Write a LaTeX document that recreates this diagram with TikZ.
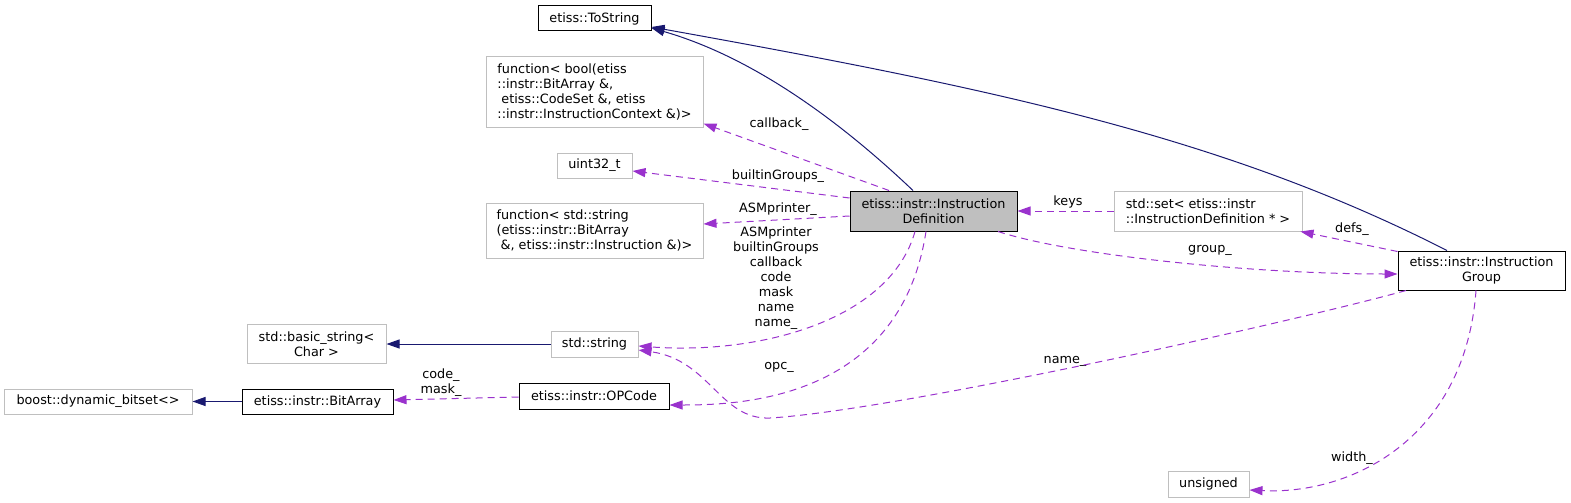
\documentclass[tikz,border=0pt]{standalone}
\usepackage{fontspec}
\setmainfont{DejaVu Sans}
\usetikzlibrary{arrows.meta}
\usetikzlibrary{positioning}
\definecolor{inhblue}{HTML}{191970}
\definecolor{usepurple}{HTML}{9A32CD}
\definecolor{boxgray}{HTML}{BFBFBF}

\tikzset{
  cls/.style={draw=black, line width=1pt, inner sep=0pt, align=center},
  ext/.style={draw=boxgray, line width=1pt, inner sep=0pt, align=center},
  cur/.style={cls, fill=boxgray},
  lbl/.style={inner sep=0pt, align=center},
  inh/.style={draw=inhblue, line width=1pt, -{Triangle[length=13pt,width=9pt]}},
  use/.style={draw=usepurple, line width=1pt, dash pattern=on 7pt off 5pt, -{Triangle[length=13pt,width=9pt]}},
}

\begin{document}
\begin{tikzpicture}[x=1pt, y=-1pt, font=\fontsize{12.8}{15}\selectfont]
    \useasboundingbox (0,0) rectangle (1571,503);

    \node[cur, minimum width=167pt, minimum height=40pt] (instrdef) at (933.5,211) {etiss::instr::Instruction\\Definition};
    \node[cls, minimum width=113pt, minimum height=25pt] (tostring) at (594.5,18.5) {etiss::ToString};
    \node[ext, minimum width=217pt, minimum height=70pt, align=left] (fbool) at (594.5,92) {function< bool(etiss\\::instr::BitArray \&,\\\hspace*{4pt}etiss::CodeSet \&, etiss\\::instr::InstructionContext \&)>};
    \node[ext, minimum width=75pt, minimum height=25pt] (uint) at (594.5,165.5) {uint32\_t};
    \node[ext, minimum width=217pt, minimum height=55pt, align=left] (fstr) at (594.5,230.5) {function< std::string\\(etiss::instr::BitArray\\\hspace*{4pt}\&, etiss::instr::Instruction \&)>};
    \node[ext, minimum width=188pt, minimum height=40pt, align=left] (set) at (1208,211) {std::set< etiss::instr\\::InstructionDefinition * >};
    \node[cls, minimum width=167pt, minimum height=39pt] (group) at (1481.5,270.5) {etiss::instr::Instruction\\Group};
    \node[ext, minimum width=87pt, minimum height=26pt] (string) at (594.5,344) {std::string};
    \node[ext, minimum width=139pt, minimum height=39pt, left=164pt of string] (basicstr) {std::basic\_string<\\Char >};
    \node[cls, minimum width=150pt, minimum height=26pt] (opcode) at (594,396) {etiss::instr::OPCode};
    \node[cls, minimum width=151pt, minimum height=25pt] (bitarray) at (317.5,401.5) {etiss::instr::BitArray};
    \node[ext, minimum width=188pt, minimum height=25pt, left=49pt of bitarray] (boost) {boost::dynamic\_bitset<>};
    \node[ext, minimum width=81pt, minimum height=26pt] (unsigned) at (1208.5,484) {unsigned};

    % edge labels
    \node[lbl] (lcallback) at (779,124) {callback\_};
    \node[lbl] (lbuiltin) at (778,176) {builtinGroups\_};
    \node[lbl] (lasm) at (778,209) {ASMprinter\_};
    \node[lbl] (lmembers) at (776,278) {ASMprinter\\builtinGroups\\callback\\code\\mask\\name\\name\_};
    \node[lbl] (lopc) at (779,367) {opc\_};
    \node[lbl] (lcode) at (441,383) {code\_\\mask\_};
    \node[lbl] (lkeys) at (1068,202) {keys};
    \node[lbl] (ldefs) at (1352,229) {defs\_};
    \node[lbl] (lgroup) at (1210,250) {group\_};
    \node[lbl] (lname) at (1065,361) {name\_};
    \node[lbl] (lwidth) at (1352,458) {width\_};

    % Connect the nodes
    \draw[inh] ([xshift=-20.5pt]instrdef.north) .. controls (865,145) and (770,62) .. ([yshift=-9.5pt]tostring.east);
    \draw[inh] ([xshift=-34.5pt]group.north) .. controls (1224,137) and (996,89) .. ([yshift=-8.5pt]tostring.east);
    \draw[inh] (string.west) -- (string.west -| basicstr.east);
    \draw[inh] (bitarray.west) -- (boost.east);
    \draw[use] ([xshift=-44.5pt]instrdef.north) -- ([yshift=4pt]fbool.south east);
    \draw[use] ([yshift=13pt]instrdef.west) -- ([yshift=-5.5pt]uint.east);
    \draw[use] ([yshift=-5pt]instrdef.west) -- ([yshift=6.5pt]fstr.east);
    \draw[use] (set.west) -- (instrdef.east);
    \draw[use] ([xshift=64.5pt]instrdef.south) .. controls (1070,255) and (1250,274) .. ([yshift=-3.5pt]group.west);
    \draw[use] ([yshift=-1pt]group.north west) -- ([xshift=-2pt]set.south east);
    \draw[use] ([xshift=-18.5pt]instrdef.south) .. controls (890,320) and (760,355) .. ([yshift=-2pt]string.east);
    \draw[use] ([xshift=-7.5pt]instrdef.south) .. controls (900,400) and (740,405) .. ([yshift=-9pt]opcode.east);
    \draw[use] ([xshift=-75.5pt]group.south) .. controls (1300,320) and (900,410) .. (770,418) .. controls (720,420) and (710,360) .. ([yshift=-6pt]string.east);
    \draw[use] ([xshift=-5.5pt]group.south) .. controls (1465,440) and (1350,495) .. ([yshift=-6pt]unsigned.east);
    \draw[use] ([yshift=-1pt]opcode.west) -- ([yshift=1.5pt]bitarray.east);
\end{tikzpicture}
\end{document}
